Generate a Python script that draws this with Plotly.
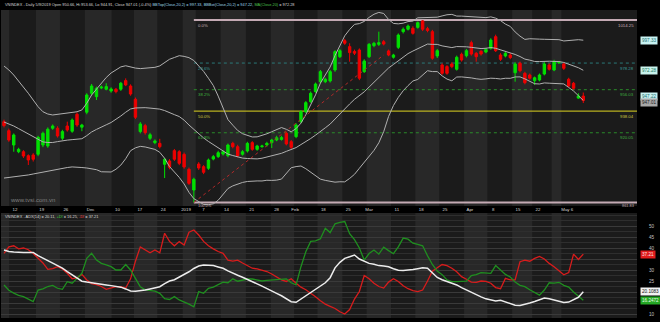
import numpy as np
import plotly.graph_objects as go

# ---------------- data ----------------
opens = [929.3, 921.8, 909.8, 904.2, 904.2, 900.9, 901.5, 902.1, 909.8, 909.0,
         923.8, 923.8, 915.5, 925.7, 921.3, 935.5, 924.7, 937.2, 953.0, 950.2,
         957.5, 956.4, 954.9, 956.4, 956.4, 963.6, 959.1, 948.0, 921.0, 926.0,
         915.4, 911.8, 911.2, 893.7, 896.5, 905.1, 904.2, 902.0, 889.5, 872.2,
         893.9, 891.7, 890.4, 898.1, 900.1, 902.3, 900.9, 911.2, 908.4, 902.1,
         904.8, 911.8, 906.2, 908.4, 909.8, 911.8, 914.0, 914.5, 919.6, 912.6,
         916.8, 929.3, 937.6, 946.0, 954.4, 962.7, 962.7, 963.3, 972.5, 983.6,
         997.0, 992.0, 988.0, 989.2, 971.1, 983.6, 992.8, 993.9, 996.1, 988.4,
         983.1, 991.4, 1004.5, 1006.5, 1007.3, 1008.1, 1013.5, 1007.0, 1004.5, 984.2,
         976.7, 975.3, 977.5, 973.1, 985.6, 984.4, 995.3, 986.4, 988.1, 987.5,
         990.6, 1000.3, 985.0, 984.2, 985.0, 970.2, 978.1, 969.7, 968.3, 963.5,
         964.1, 969.1, 976.7, 972.5, 978.5, 977.5, 964.7, 961.4, 949.0, 950.66]
highs = [931.0, 923.5, 919.5, 907.5, 905.5, 902.0, 903.0, 917.5, 921.0, 924.5,
         927.0, 925.5, 922.5, 929.3, 932.0, 937.0, 927.5, 953.0, 960.8, 958.5,
         959.5, 961.4, 958.0, 957.5, 962.5, 965.5, 960.5, 949.5, 929.0, 927.5,
         920.0, 914.5, 915.0, 899.0, 898.0, 906.5, 905.5, 903.5, 891.0, 882.5,
         895.5, 893.0, 898.5, 901.5, 905.0, 905.5, 911.0, 912.5, 910.0, 905.5,
         912.5, 913.0, 910.0, 910.0, 912.5, 915.0, 917.5, 917.5, 921.0, 914.0,
         928.0, 939.0, 946.5, 954.5, 962.0, 972.5, 966.0, 972.5, 989.0, 990.0,
         998.5, 994.8, 989.5, 990.5, 981.5, 995.0, 996.0, 1004.5, 997.5, 989.5,
         986.0, 1003.0, 1008.0, 1010.5, 1009.0, 1013.0, 1014.25, 1008.5, 1006.0, 990.0,
         978.0, 976.5, 979.0, 984.5, 987.0, 990.0, 997.0, 987.5, 989.0, 991.0,
         999.0, 1002.0, 986.5, 987.5, 986.5, 979.0, 979.5, 971.0, 969.5, 967.0,
         969.5, 979.0, 978.0, 981.0, 980.0, 979.0, 966.0, 962.5, 953.0, 953.66]
lows = [924.5, 912.5, 904.2, 903.0, 899.0, 893.1, 896.0, 900.5, 908.0, 907.5,
        922.5, 916.0, 914.0, 921.0, 920.0, 925.0, 921.3, 935.5, 951.5, 947.4,
        956.5, 955.5, 953.5, 953.0, 955.0, 959.0, 951.0, 931.5, 919.5, 918.5,
        914.0, 910.5, 907.0, 882.2, 889.5, 896.5, 893.0, 890.0, 876.5, 861.83,
        889.0, 885.5, 889.0, 897.0, 899.0, 901.0, 899.5, 907.0, 899.5, 901.0,
        903.5, 905.0, 905.0, 907.5, 908.5, 907.3, 913.0, 913.5, 909.5, 906.5,
        915.5, 928.0, 936.5, 945.0, 953.5, 961.5, 961.5, 962.0, 971.0, 982.5,
        993.5, 979.4, 985.0, 964.0, 970.0, 982.5, 991.5, 992.5, 993.0, 984.0,
        982.0, 990.0, 1003.0, 1005.5, 1002.0, 1007.0, 1005.0, 1004.0, 981.0, 982.5,
        968.5, 968.5, 974.0, 972.0, 979.5, 983.0, 984.5, 979.4, 984.5, 986.5,
        989.5, 987.5, 980.0, 983.0, 981.5, 962.7, 970.5, 960.5, 964.5, 960.0,
        963.0, 968.0, 972.0, 971.5, 977.5, 972.5, 958.0, 956.0, 948.5, 944.91]
closes = [926.0, 914.0, 918.2, 906.2, 900.6, 897.3, 897.9, 916.2, 919.6, 923.0,
          925.7, 917.4, 921.0, 922.4, 930.7, 926.5, 926.5, 951.6, 959.1, 957.2,
          958.2, 958.6, 956.6, 954.4, 961.4, 960.0, 952.4, 933.0, 927.4, 920.1,
          918.4, 913.2, 908.4, 897.9, 891.2, 897.9, 894.5, 891.5, 877.8, 881.2,
          890.6, 887.0, 897.3, 900.1, 903.4, 904.2, 909.8, 908.4, 900.9, 904.2,
          911.2, 906.2, 909.0, 909.0, 911.2, 914.0, 915.9, 916.0, 910.7, 907.9,
          926.5, 937.6, 945.2, 953.0, 960.8, 971.1, 964.7, 971.1, 987.8, 988.6,
          994.8, 987.0, 986.5, 965.6, 980.0, 993.9, 994.8, 995.3, 994.2, 985.0,
          985.0, 1001.7, 1006.5, 1009.2, 1003.1, 1012.0, 1006.5, 1005.5, 982.3, 988.6,
          969.7, 969.7, 975.3, 983.1, 980.8, 988.6, 985.8, 983.6, 985.8, 989.8,
          997.5, 988.6, 981.4, 986.4, 982.8, 977.5, 971.9, 961.9, 965.6, 966.0,
          968.3, 977.5, 973.1, 979.4, 979.0, 973.9, 959.1, 957.2, 950.8, 947.01]

# Bollinger values of the first bars (their 20-day window starts before the chart)
bb_upper_early = [975.8, 972.5, 968.3, 963.5, 958.5, 953.0, 947.4, 941.8, 937.6, 935.7,
                  934.9, 935.5, 936.3, 936.8, 937.1, 937.6, 939.1, 944.7, 951.6]
bb_lower_early = [882.2, 882.7, 883.1, 883.5, 883.9, 884.8, 885.6, 886.4, 887.2, 888.1,
                  888.9, 889.8, 890.6, 891.0, 891.5, 891.5, 891.0, 890.6, 889.8]

minus_di = [37.6, 40.5, 41.0, 39.6, 40.0, 39.2, 37.5, 35.5, 33.2, 30.3,
            30.6, 31.5, 30.5, 28.5, 26.0, 26.5, 28.0, 25.5, 23.8, 23.3,
            22.5, 21.2, 21.8, 22.4, 22.4, 21.8, 26.0, 34.0, 40.5, 39.2,
            37.8, 39.1, 37.8, 46.7, 43.0, 41.0, 42.9, 41.4, 47.2, 48.2,
            45.9, 43.0, 41.0, 39.6, 38.4, 37.6, 34.5, 34.0, 34.5, 33.2,
            32.0, 30.8, 30.5, 30.0, 29.3, 28.2, 26.8, 25.5, 24.8, 26.0,
            24.0, 22.2, 21.0, 19.5, 17.8, 16.0, 14.5, 13.5, 12.5, 11.0,
            10.0, 12.0, 16.8, 20.2, 27.5, 26.0, 24.0, 22.5, 21.8, 24.5,
            26.0, 24.8, 22.8, 21.5, 20.6, 20.2, 20.9, 25.0, 29.5, 31.0,
            32.5, 32.0, 30.8, 29.2, 27.0, 25.8, 24.5, 24.4, 25.0, 24.8,
            24.0, 22.0, 21.5, 26.2, 25.5, 25.5, 33.8, 34.5, 34.0, 35.3,
            36.2, 35.0, 33.0, 31.5, 29.5, 27.8, 28.8, 37.2, 34.8, 37.21]
plus_di = [23.2, 20.8, 19.5, 18.5, 17.9, 16.8, 15.6, 20.9, 21.4, 22.5,
           23.0, 21.7, 21.2, 24.7, 24.0, 26.2, 28.5, 35.3, 37.6, 34.5,
           33.0, 32.3, 31.5, 30.0, 30.0, 32.5, 30.0, 26.2, 22.4, 21.0,
           20.8, 20.4, 19.4, 17.0, 16.6, 17.9, 16.4, 15.5, 14.5, 13.3,
           20.2, 19.4, 21.7, 22.2, 23.5, 24.5, 24.2, 26.0, 24.9, 25.5,
           25.9, 25.9, 25.4, 25.0, 25.3, 25.5, 25.5, 25.8, 26.0, 24.2,
           23.2, 31.5, 38.3, 43.0, 43.2, 44.2, 49.0, 47.0, 51.0, 51.6,
           52.0, 46.5, 43.8, 40.0, 34.5, 37.5, 39.1, 37.2, 40.4, 38.8,
           37.4, 40.5, 44.5, 44.0, 42.2, 41.6, 41.0, 36.5, 32.5, 29.5,
           27.9, 25.5, 24.7, 24.7, 24.7, 24.9, 27.5, 27.9, 28.8, 28.7,
           28.5, 32.0, 30.0, 28.0, 26.8, 24.5, 23.0, 22.4, 21.0, 19.8,
           18.6, 20.9, 24.2, 24.0, 24.4, 23.0, 22.2, 20.0, 17.9, 16.25]
adx = [39.1, 38.4, 38.2, 38.0, 38.0, 38.0, 38.0, 36.5, 35.4, 34.2,
       33.0, 31.9, 30.9, 29.3, 27.7, 26.3, 24.9, 24.5, 24.1, 23.8,
       23.6, 23.2, 22.9, 22.5, 22.2, 21.4, 20.5, 20.3, 20.5, 20.9,
       21.4, 21.9, 22.4, 23.8, 25.0, 25.6, 26.8, 27.7, 29.2, 30.7,
       31.8, 32.3, 32.2, 32.0, 31.4, 30.8, 29.6, 28.5, 27.6, 26.7,
       25.8, 24.8, 23.7, 22.7, 21.7, 20.6, 19.4, 18.3, 16.8, 15.6,
       15.3, 16.8, 18.5, 19.7, 21.2, 22.8, 24.2, 26.5, 31.0, 33.5,
       35.3, 36.0, 36.8, 35.0, 33.9, 33.0, 32.6, 32.0, 31.8, 31.5,
       30.6, 29.9, 29.8, 29.9, 30.2, 30.6, 31.0, 30.8, 28.6, 26.6,
       25.6, 24.9, 24.0, 23.2, 22.0, 20.9, 19.8, 18.6, 17.8, 16.9,
       16.4, 15.9, 16.2, 15.5, 14.5, 14.0, 13.9, 14.3, 15.0, 15.7,
       16.5, 17.3, 16.9, 16.4, 15.9, 15.2, 15.4, 16.4, 17.6, 20.11]

tick_text = ["12", "19", "26", "Dec", "10", "17", "24", "2019", "7", "14", "21", "28",
             "Feb", "18", "25", "Mar", "11", "18", "25", "Apr", "8", "15", "22", "May 6"]
tick_bar = [2.26, 7.75, 12.7, 17.8, 23.3, 27.9, 32.7, 37.4, 41.0, 45.7, 50.9, 56.0,
            59.8, 65.6, 70.7, 75.0, 80.7, 85.7, 90.6, 95.7, 100.5, 105.6, 109.7, 115.7]
week_edges = [-0.7, 1.06, 6.55, 11.5, 16.6, 22.1, 26.7, 31.5, 36.7, 39.4, 44.5, 49.7, 54.8,
              59.6, 64.4, 69.5, 74.5, 79.5, 84.5, 89.4, 94.5, 99.3, 104.4, 108.5,
              112.5, 114.5, 119.5]
adx_axis_vals = [10, 15, 20, 25, 30, 35, 40, 45, 50]
adx_axis_text = ["10", "", "", "25", "30", "", "40", "45", "50"]  # 15/20/35 sit under the value boxes

fib_ratios = [0.0, 0.236, 0.382, 0.5, 0.618, 1.0]
fib_names = ["0.0%", "23.6%", "38.2%", "50.0%", "61.8%", "100.0%"]
trend_bars = [39, 78]
trend_prices = [861.83, 985.0]

last_bb_top, last_bb_mid, last_bb_bot, last_close = 997.33, 972.28, 947.22, 947.01
last_adx, last_pdi, last_mdi = 20.1083, 16.2472, 37.21

header = ("VNINDEX - Daily 5/9/2019 Open 950.66, Hi 953.66, Lo 944.91, Close 947.01 (-0.4%) ",
          "BBTop(Close,20,2) = 997.33, BBBot(Close,20,2) = 947.22, ",
          "MA(Close,20)", " = 972.28")

# ---------------- computations ----------------
c = np.array(closes)
n = len(c)
x = np.arange(n)
upper = np.empty(n)
lower = np.empty(n)
ne = len(bb_upper_early)
upper[:ne] = bb_upper_early
lower[:ne] = bb_lower_early
for i in range(ne, n):
    w = c[i - 19:i + 1]
    m, s = w.mean(), w.std()
    upper[i] = m + 2 * s
    lower[i] = m - 2 * s
mid = (upper + lower) / 2

lo = min(lows)
hi = max(highs)
k_lo = int(np.argmin(lows))
fib_levels = [hi - r * (hi - lo) for r in fib_ratios]

# ---------------- geometry ----------------
W, H = 660, 325
ML, MR, MT, MB = 1, 23, 10, 7
plot_h = H - MT - MB
def py(pix):  # pixel row -> paper y
    return (H - MB - pix) / plot_h
def px(pix):  # pixel col -> paper x
    return (pix - ML) / (W - ML - MR)

bar_w = 4.868
xl = -(4 - ML) / bar_w
xr = (W - MR - 4) / bar_w

FONT = "Liberation Sans, Arial, sans-serif"

fig = go.Figure()
fig.add_trace(go.Candlestick(
    x=x, open=opens, high=highs, low=lows, close=closes,
    increasing=dict(line=dict(color="#00e000", width=1), fillcolor="#00e000"),
    decreasing=dict(line=dict(color="#ee0000", width=1), fillcolor="#ee0000"),
    whiskerwidth=0, showlegend=False, hoverinfo="skip", xaxis="x", yaxis="y"))
for arr in (upper, mid, lower):
    fig.add_trace(go.Scatter(x=x, y=arr, mode="lines", line=dict(color="#b0b0b0", width=1),
                             showlegend=False, hoverinfo="skip", xaxis="x", yaxis="y"))
fig.add_trace(go.Scatter(x=trend_bars, y=trend_prices, mode="lines",
                         line=dict(color="#b02828", width=1, dash="dot"),
                         showlegend=False, hoverinfo="skip", xaxis="x", yaxis="y"))

fig.add_trace(go.Scatter(x=x, y=minus_di, mode="lines", line=dict(color="#d81c1c", width=1.3),
                         showlegend=False, hoverinfo="skip", xaxis="x2", yaxis="y2"))
fig.add_trace(go.Scatter(x=x, y=plus_di, mode="lines", line=dict(color="#1f8f1f", width=1.3),
                         showlegend=False, hoverinfo="skip", xaxis="x2", yaxis="y2"))
fig.add_trace(go.Scatter(x=x, y=adx, mode="lines", line=dict(color="#ececec", width=1.5),
                         showlegend=False, hoverinfo="skip", xaxis="x2", yaxis="y2"))

shapes = []
for j in range(len(week_edges) - 1):
    if j % 2 == 0:
        for xa, ya in (("x", "y domain"), ("x2", "y2 domain")):
            shapes.append(dict(type="rect", xref=xa, yref=ya, x0=week_edges[j], x1=week_edges[j + 1],
                               y0=0, y1=1, fillcolor="#282828", line=dict(width=0), layer="below"))

fib_line = [dict(color="#c4aab4", width=2, dash="solid"),
            dict(color="#2a7878", width=1, dash="dot"),
            dict(color="#2a8a2a", width=1, dash="dot"),
            dict(color="#b8b020", width=1.3, dash="solid"),
            dict(color="#2a8a2a", width=1, dash="dot"),
            dict(color="#c4aab4", width=2, dash="solid")]
fib_txt = ["#c8b0b8", "#3a9a9a", "#3fb03f", "#d0c840", "#3fb03f", "#c8b0b8"]
for lvl, st in zip(fib_levels, fib_line):
    shapes.append(dict(type="line", xref="x", yref="y", x0=k_lo, x1=xr, y0=lvl, y1=lvl,
                       line=st, layer="below"))

ann = []
ann.append(dict(xref="paper", yref="paper", x=px(3), y=py(4.5), xanchor="left", yanchor="middle",
                showarrow=False, font=dict(size=3.9, family=FONT, color="#d8d8d8"),
                text=(f"{header[0]}<span style='color:#9fd8e8'>{header[1]}</span>"
                      f"<span style='color:#4cc04c'>{header[2]}</span>{header[3]}")))
ann.append(dict(xref="paper", yref="paper", x=px(3), y=py(216.5), xanchor="left", yanchor="middle",
                showarrow=False, font=dict(size=3.9, family=FONT, color="#d8d8d8"),
                text=(f"VNINDEX - ADX(14) = {last_adx:.2f}, <span style='color:#3fcf3f'>+DI</span>"
                      f" = {last_pdi:.2f}, <span style='color:#ff4040'>-DI</span> = {last_mdi:.2f}")))
ann.append(dict(xref="paper", yref="paper", x=px(8), y=py(200), xanchor="left", yanchor="middle",
                showarrow=False, font=dict(size=6, family=FONT, color="#808080"),
                text="www.tvsi.com.vn"))
for j, (lvl, name, col) in enumerate(zip(fib_levels, fib_names, fib_txt)):
    last = j == len(fib_levels) - 1
    fs = 3.9 if last else 4.3
    ys = 1.2 if last else -0.5
    ann.append(dict(xref="x", yref="y", x=k_lo, y=lvl, xshift=2, yshift=ys, xanchor="left",
                    yanchor="top", showarrow=False, font=dict(size=fs, family=FONT, color=col),
                    text=name))
    ann.append(dict(xref="paper", yref="y", x=1, y=lvl, xshift=-1, yshift=ys, xanchor="right",
                    yanchor="top", showarrow=False, font=dict(size=fs, family=FONT, color=col),
                    text=f"{lvl:.2f}"))

def box(val, txt, yref, bg, fg, ys=0):
    return dict(xref="paper", yref=yref, x=px(639.5), y=val, yshift=ys, xanchor="left",
                yanchor="middle", showarrow=False, bgcolor=bg, borderpad=1,
                font=dict(size=4.6, family=FONT, color=fg), text=txt)

ann.append(box(last_bb_top, f"{last_bb_top:.2f}", "y", "#c8f2f2", "#1d7070"))
ann.append(box(last_bb_mid, f"{last_bb_mid:.2f}", "y", "#c8f2ec", "#1d7a60"))
ann.append(box(last_bb_bot, f"{last_bb_bot:.2f}", "y", "#c8f2f2", "#1d7070", ys=4))
ann.append(box(last_close, f"{last_close:.2f}", "y", "#a8a8a8", "#202020", ys=-2))
ann.append(box(last_mdi, f"{last_mdi:.2f}", "y2", "#e01c1c", "#ffe0e0"))
ann.append(box(last_adx, f"{last_adx:.4f}", "y2", "#f2f2f2", "#101010"))
ann.append(box(last_pdi, f"{last_pdi:.4f}", "y2", "#24a824", "#eaffea"))

fig.update_layout(
    width=W, height=H, margin=dict(l=ML, r=MR, t=MT, b=MB),
    paper_bgcolor="#000000", plot_bgcolor="#1b1b1b",
    font=dict(family=FONT),
    shapes=shapes, annotations=ann, showlegend=False,
    xaxis=dict(domain=[0, 1], range=[xl, xr], anchor="y", showgrid=False, zeroline=False,
               tickmode="array", tickvals=tick_bar, ticktext=tick_text, ticks="",
               tickfont=dict(size=4.4, color="#d4d4d4", family=FONT),
               showline=False, rangeslider=dict(visible=False), fixedrange=True),
    yaxis=dict(domain=[py(206), 1], range=[858.86, 1022.60], showgrid=False, zeroline=False,
               showticklabels=False, fixedrange=True),
    xaxis2=dict(domain=[0, 1], range=[xl, xr], anchor="y2", showgrid=False, zeroline=False,
                showticklabels=False, ticks="", fixedrange=True),
    yaxis2=dict(domain=[0, py(213)], range=[8.18, 55.91], anchor="x2", side="right",
                tickmode="array", tickvals=adx_axis_vals, ticktext=adx_axis_text, ticks="",
                tickfont=dict(size=4.6, color="#c0c0c0", family=FONT), ticklabelstandoff=11,
                showgrid=True, gridcolor="#3a3a3a", gridwidth=1, zeroline=False,
                minor=dict(tickmode="linear", tick0=0, dtick=2.5, showgrid=True,
                           gridcolor="#2e2e2e", gridwidth=1),
                fixedrange=True),
)
# white outer frame at the bottom edge like the reference
fig.add_shape(type="rect", xref="paper", yref="paper", x0=px(-5), x1=px(670), y0=py(330), y1=py(322),
              fillcolor="#ffffff", line=dict(width=0), layer="above")

fig.write_html("out.html")
